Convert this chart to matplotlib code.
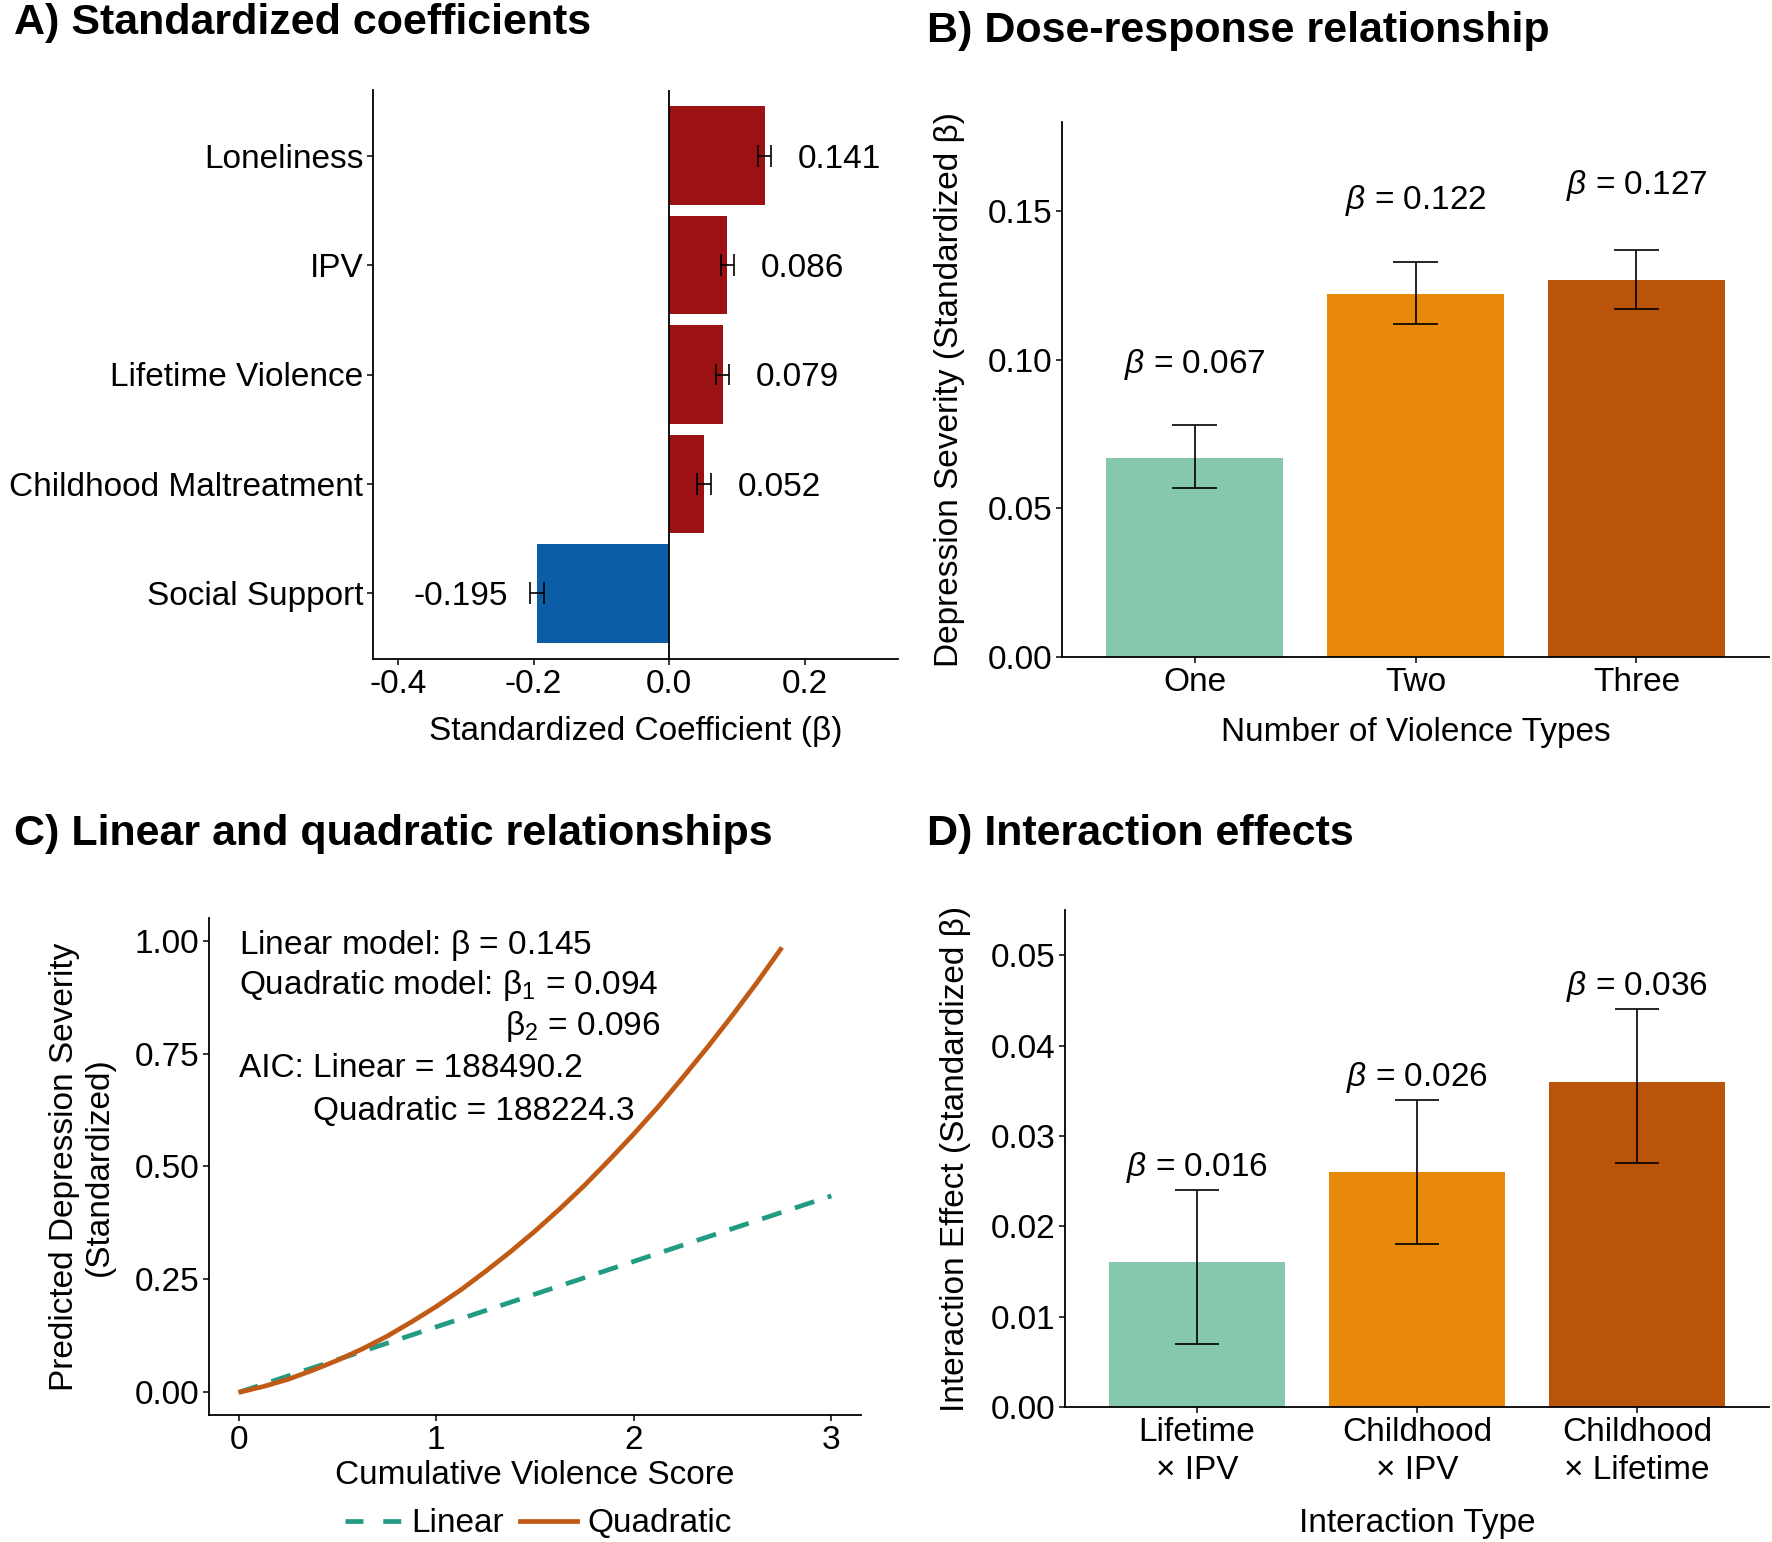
import matplotlib
matplotlib.use('Agg')
import matplotlib.pyplot as plt
from matplotlib.lines import Line2D

plt.rcParams['font.family'] = ['Liberation Sans', 'DejaVu Sans']
plt.rcParams['mathtext.fontset'] = 'custom'
plt.rcParams['mathtext.rm'] = 'Liberation Sans'
plt.rcParams['mathtext.it'] = 'Liberation Sans:italic'
plt.rcParams['mathtext.bf'] = 'Liberation Sans:bold'
plt.rcParams['axes.unicode_minus'] = False

# ---- data ----
# A) standardized coefficients
pred_names = ['Loneliness', 'IPV', 'Lifetime Violence', 'Childhood Maltreatment', 'Social Support']
pred_coef = [0.141, 0.086, 0.079, 0.052, -0.195]
pred_lo = [0.131, 0.076, 0.069, 0.042, -0.205]
pred_hi = [0.151, 0.096, 0.089, 0.062, -0.185]

# B) dose-response
dose_cats = ['One', 'Two', 'Three']
dose_beta = [0.067, 0.122, 0.127]
dose_lo = [0.057, 0.112, 0.117]
dose_hi = [0.078, 0.133, 0.137]

# C) linear vs quadratic predictions (read off the curves)
lin_x = [0.0, 3.0]
lin_y = [0.0, 0.435]
quad_x = [0.0, 0.125, 0.25, 0.375, 0.5, 0.625, 0.75, 0.875, 1.0, 1.125, 1.25, 1.375,
          1.5, 1.625, 1.75, 1.875, 2.0, 2.125, 2.25, 2.375, 2.5, 2.625, 2.75]
quad_y = [0.0, 0.013, 0.029, 0.049, 0.071, 0.096, 0.124, 0.156, 0.19, 0.227, 0.268, 0.311,
          0.357, 0.406, 0.458, 0.514, 0.572, 0.633, 0.698, 0.765, 0.835, 0.908, 0.985]

# D) interaction effects
int_cats = ['Lifetime\n× IPV', 'Childhood\n× IPV', 'Childhood\n× Lifetime']
int_beta = [0.016, 0.026, 0.036]
int_lo = [0.007, 0.018, 0.027]
int_hi = [0.024, 0.034, 0.044]

red = '#9C1212'
blue = '#0B5DA6'
bar_cols = ['#86C8AC', '#E8890B', '#BA540B']
teal = '#239B83'
rust = '#C05A15'

FS = 24
TFS = 31

W, H = 1772, 1542
fig = plt.figure(figsize=(W / 100, H / 100), dpi=100)


def px_axes(l, t, r, b):
    return fig.add_axes([l / W, 1 - b / H, (r - l) / W, (b - t) / H])


def style(ax):
    for s in ['top', 'right']:
        ax.spines[s].set_visible(False)
    for s in ['left', 'bottom']:
        ax.spines[s].set_linewidth(1.3)
    ax.tick_params(axis='both', direction='out', length=4, width=1.1, pad=3,
                   labelsize=FS, colors='black')


# ---- A ----
axA = px_axes(373, 90, 898, 659)
style(axA)
ypos = [5, 4, 3, 2, 1]
colsA = [red if c > 0 else blue for c in pred_coef]
axA.barh(ypos, pred_coef, height=0.9, color=colsA)
axA.axvline(0, color='black', lw=1.3)
axA.hlines(ypos, pred_lo, pred_hi, color='black', lw=1.2)
for y, lo, hi in zip(ypos, pred_lo, pred_hi):
    axA.vlines([lo, hi], y - 0.1, y + 0.1, color='black', lw=1.2)
for y, c in zip(ypos, pred_coef):
    if c > 0:
        axA.text(c + 0.049, y, f'{c:.3f}', ha='left', va='center_baseline', fontsize=FS)
    else:
        axA.text(c - 0.042, y, f'{c:.3f}', ha='right', va='center_baseline', fontsize=FS)
axA.set_yticks(ypos)
axA.set_yticklabels(pred_names)
axA.set_xticks([-0.4, -0.2, 0.0, 0.2])
axA.set_xticklabels(['-0.4', '-0.2', '0.0', '0.2'])
axA.set_xlim(-0.437, 0.338)
axA.set_ylim(0.4, 5.6)
axA.set_xlabel('Standardized Coefficient (β)', fontsize=FS, labelpad=12)
fig.text(14 / W, 1 - 23 / H, 'A) Standardized coefficients', fontsize=TFS,
         fontweight='bold', ha='left', va='center')

# ---- B ----
axB = px_axes(1062, 122, 1769, 657)
style(axB)
xb = [1, 2, 3]
axB.bar(xb, dose_beta, width=0.8, color=bar_cols)
axB.vlines(xb, dose_lo, dose_hi, color='black', lw=1.2)
axB.hlines(dose_lo, [x - 0.1 for x in xb], [x + 0.1 for x in xb], color='black', lw=1.2)
axB.hlines(dose_hi, [x - 0.1 for x in xb], [x + 0.1 for x in xb], color='black', lw=1.2)
for x, b in zip(xb, dose_beta):
    axB.text(x, b + 0.033, rf'$\beta$ = {b:.3f}', ha='center', va='center_baseline',
             fontsize=FS)
axB.set_xticks(xb)
axB.set_xticklabels(dose_cats)
axB.set_yticks([0, 0.05, 0.10, 0.15])
axB.set_yticklabels(['0.00', '0.05', '0.10', '0.15'])
axB.set_xlim(0.4, 3.6)
axB.set_ylim(0, 0.18)
axB.set_xlabel('Number of Violence Types', fontsize=FS, labelpad=14)
axB.set_ylabel('Depression Severity (Standardized β)', fontsize=FS, labelpad=16)
fig.text(927 / W, 1 - 31 / H, 'B) Dose-response relationship', fontsize=TFS,
         fontweight='bold', ha='left', va='center')

# ---- C ----
axC = px_axes(209, 918, 861, 1415)
style(axC)
axC.plot(lin_x, lin_y, color=teal, lw=3.4, linestyle=(0, (4.3, 3.0)))
axC.plot(quad_x, quad_y, color=rust, lw=3.4, solid_joinstyle='round', solid_capstyle='butt')
axC.set_xlim(-0.15, 3.15)
axC.set_ylim(-0.05, 1.05)
axC.set_xticks([0, 1, 2, 3])
axC.set_yticks([0, 0.25, 0.5, 0.75, 1.0])
axC.set_yticklabels(['0.00', '0.25', '0.50', '0.75', '1.00'])
axC.set_xlabel('Cumulative Violence Score', fontsize=FS, labelpad=3)
axC.set_ylabel('Predicted Depression Severity\n(Standardized)', fontsize=FS,
               labelpad=14, linespacing=1.15)
axC.text(0.0, 1.0, r'Linear model: $\mathrm{\beta}$ = 0.145', fontsize=FS,
         va='center_baseline')
axC.text(0.0, 0.91, r'Quadratic model: $\mathrm{\beta}_1$ = 0.094', fontsize=FS,
         va='center_baseline')
axC.text(2.137, 0.82, r'$\mathrm{\beta}_2$ = 0.096', fontsize=FS, va='center_baseline',
         ha='right')
axC.text(0.0, 0.725, 'AIC: Linear = 188490.2', fontsize=FS, va='center_baseline')
axC.text(0.377, 0.63, 'Quadratic = 188224.3', fontsize=FS, va='center_baseline')
handles = [Line2D([], [], color=teal, lw=3.4, linestyle=(0, (3.8, 4.2))),
           Line2D([], [], color=rust, lw=3.4)]
fig.legend(handles, ['Linear', 'Quadratic'], loc='center', ncol=2, frameon=False,
           fontsize=FS, bbox_to_anchor=(538 / W, 1 - 1524 / H), handlelength=1.7,
           handletextpad=0.3, columnspacing=0.5, borderpad=0)
fig.text(14 / W, 1 - 834 / H, 'C) Linear and quadratic relationships', fontsize=TFS,
         fontweight='bold', ha='left', va='center')

# ---- D ----
axD = px_axes(1065, 910, 1769, 1407)
style(axD)
axD.bar(xb, int_beta, width=0.8, color=bar_cols)
axD.vlines(xb, int_lo, int_hi, color='black', lw=1.2)
axD.hlines(int_lo, [x - 0.1 for x in xb], [x + 0.1 for x in xb], color='black', lw=1.2)
axD.hlines(int_hi, [x - 0.1 for x in xb], [x + 0.1 for x in xb], color='black', lw=1.2)
for x, b in zip(xb, int_beta):
    axD.text(x, b + 0.011, rf'$\beta$ = {b:.3f}', ha='center', va='center_baseline',
             fontsize=FS)
axD.set_xticks(xb)
axD.set_xticklabels(int_cats, linespacing=1.3)
axD.set_yticks([0, 0.01, 0.02, 0.03, 0.04, 0.05])
axD.set_yticklabels(['0.00', '0.01', '0.02', '0.03', '0.04', '0.05'])
axD.set_xlim(0.4, 3.6)
axD.set_ylim(0, 0.055)
axD.set_xlabel('Interaction Type', fontsize=FS, labelpad=16)
axD.set_ylabel('Interaction Effect (Standardized β)', fontsize=FS, labelpad=14)
fig.text(927 / W, 1 - 834 / H, 'D) Interaction effects', fontsize=TFS,
         fontweight='bold', ha='left', va='center')

fig.savefig('out.png', dpi=100)
